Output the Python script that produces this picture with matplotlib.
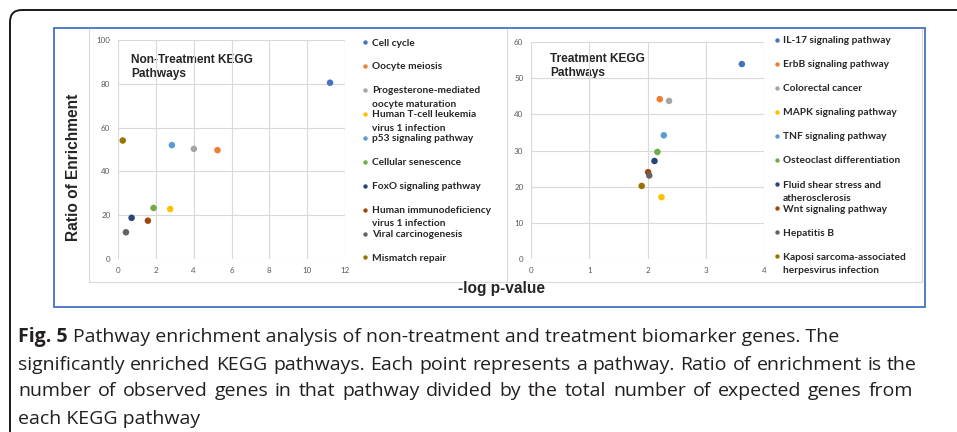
import matplotlib
matplotlib.use('Agg')
import matplotlib.pyplot as plt
from matplotlib.patches import FancyBboxPatch, Rectangle

# ---------------- data ----------------
nt_labels = ["Cell cycle", "Oocyte meiosis", "Progesterone-mediated\noocyte maturation",
             "Human T-cell leukemia\nvirus 1 infection", "p53 signaling pathway",
             "Cellular senescence", "FoxO signaling pathway",
             "Human immunodeficiency\nvirus 1 infection", "Viral carcinogenesis",
             "Mismatch repair"]
nt_x = [11.21, 5.26, 4.01, 2.76, 2.85, 1.88, 0.72, 1.58, 0.42, 0.25]
nt_y = [80.5, 49.7, 50.3, 22.8, 52.0, 23.3, 18.8, 17.5, 12.2, 54.1]

t_labels = ["IL-17 signaling pathway", "ErbB signaling pathway", "Colorectal cancer",
            "MAPK signaling pathway", "TNF signaling pathway", "Osteoclast differentiation",
            "Fluid shear stress and\natherosclerosis", "Wnt signaling pathway", "Hepatitis B",
            "Kaposi sarcoma-associated\nherpesvirus infection"]
t_x = [3.62, 2.21, 2.37, 2.24, 2.28, 2.17, 2.12, 2.01, 2.03, 1.90]
t_y = [53.9, 44.2, 43.7, 17.1, 34.2, 29.6, 27.1, 24.0, 23.1, 20.2]

colors = ["#4472C4", "#ED7D31", "#A5A5A5", "#FFC000", "#5B9BD5",
          "#70AD47", "#264478", "#9E480E", "#636363", "#997300"]

nt_xticks = [0, 2, 4, 6, 8, 10, 12]
nt_yticks = [0, 20, 40, 60, 80, 100]
t_xticks = [0, 1, 2, 3, 4]
t_yticks = [0, 10, 20, 30, 40, 50, 60]

nt_title = "Non-Treatment KEGG\nPathways"
t_title = "Treatment KEGG\nPathways"
ylabel = "Ratio of Enrichment"
xlabel = "-log p-value"

caption_bold = "Fig. 5"
caption_lines = [
    "Pathway enrichment analysis of non-treatment and treatment biomarker genes. The",
    "significantly enriched KEGG pathways. Each point represents a pathway. Ratio of enrichment is the",
    "number of observed genes in that pathway divided by the total number of expected genes from",
    "each KEGG pathway",
]

# ---------------- layout ----------------
W, H = 957, 432
fig = plt.figure(figsize=(W / 100, H / 100), dpi=100)
bg = fig.add_axes([0, 0, 1, 1], zorder=0)
bg.set_xlim(0, W)
bg.set_ylim(H, 0)
bg.axis('off')


def px_rect(x0, y0, x1, y1):
    return [x0 / W, 1 - y1 / H, (x1 - x0) / W, (y1 - y0) / H]


def multiline(x, y, text, lh, **kw):
    # first line's baseline at y, following lines lh pixels lower
    for j, part in enumerate(text.split("\n")):
        bg.text(x, y + j * lh, part, **kw)


# outer rounded frame
bg.add_patch(FancyBboxPatch((10, 10), 990, 450, boxstyle="round,pad=0,rounding_size=12",
                            fill=False, ec="#1a1a1a", lw=1.4))
# blue chart frame
bg.add_patch(Rectangle((54, 28), 871, 279, fill=False, ec="#4472C4", lw=1.3))
# light chart-area borders
gcol = "#D9D9D9"
bg.plot([89, 89], [29, 282], color=gcol, lw=0.8)
bg.plot([507, 507], [29, 282], color=gcol, lw=0.8)
bg.plot([922, 922], [29, 282], color=gcol, lw=0.8)
bg.plot([89, 922], [282, 282], color=gcol, lw=0.8)

tick_font = dict(family="Lato", size=5.8, color="#595959")


def style_axes(ax, xt, yt):
    ax.set_xticks(xt)
    ax.set_yticks(yt)
    ax.set_xlim(xt[0], xt[-1])
    ax.set_ylim(yt[0], yt[-1])
    ax.grid(True, color=gcol, lw=0.8)
    ax.set_axisbelow(True)
    for s in ax.spines.values():
        s.set_visible(False)
    ax.tick_params(length=0, pad=5.5)
    for lab in ax.get_xticklabels() + ax.get_yticklabels():
        lab.set_fontfamily(tick_font["family"])
        lab.set_fontsize(tick_font["size"])
        lab.set_color(tick_font["color"])
    ax.patch.set_alpha(0)


ax1 = fig.add_axes(px_rect(118, 40, 345, 259), zorder=2)
style_axes(ax1, nt_xticks, nt_yticks)
ax1.scatter(nt_x, nt_y, c=colors, s=22, linewidths=0, zorder=3, clip_on=False)

ax2 = fig.add_axes(px_rect(531, 42, 764, 259), zorder=2)
style_axes(ax2, t_xticks, t_yticks)
ax2.scatter(t_x, t_y, c=colors, s=22, linewidths=0, zorder=3, clip_on=False)

# titles inside plots
title_kw = dict(family="Liberation Sans", fontweight="bold", fontsize=8.6,
                color="#262626", va="baseline", ha="left")
multiline(131, 62.7, nt_title, 14, **title_kw)
multiline(550, 62.3, t_title, 14, **title_kw)

# axis labels
bg.text(73, 167, ylabel, rotation=90, ha="center", va="center",
        family="Liberation Sans", fontweight="bold", fontsize=11.2, color="#262626")
bg.text(502, 289, xlabel, ha="center", va="center",
        family="Liberation Sans", fontweight="bold", fontsize=11.2, color="#262626")

# legends
leg_kw = dict(family="Lato", fontweight="bold", fontsize=7.3, color="#262626",
              ha="left", va="baseline")


def draw_legend(labels, mx, tx, y0, dy):
    for i, (lab, col) in enumerate(zip(labels, colors)):
        y = y0 + i * dy
        bg.scatter([mx], [y], s=10, c=[col], linewidths=0, zorder=3)
        multiline(tx, y + 3.2, lab, 13.5, **leg_kw)


draw_legend(nt_labels, 365, 372, 42.3, 23.9)
draw_legend(t_labels, 777, 783, 40.0, 24.05)

# caption
cap_font = dict(family="Open Sans", fontsize=14.0, color="#231F20", va="baseline", ha="left")
renderer = fig.canvas.get_renderer()
x0 = 18
base = [342, 369.5, 396.5, 423.5]
tb = bg.text(x0, base[0], caption_bold, fontweight="bold", **cap_font)
wb = tb.get_window_extent(renderer).width
sp = bg.text(0, -50, "a a", **cap_font)
w_aa = sp.get_window_extent(renderer).width
sa = bg.text(0, -50, "aa", **cap_font)
space_w = w_aa - sa.get_window_extent(renderer).width
sp.remove()
sa.remove()
bg.text(x0 + wb + space_w, base[0], caption_lines[0], **cap_font)

justify_right = [None, 917, 913, None]
for li in range(1, 4):
    line = caption_lines[li]
    right = justify_right[li]
    if right is None:
        bg.text(x0, base[li], line, **cap_font)
        continue
    words = line.split(" ")
    objs = [bg.text(0, base[li], w, **cap_font) for w in words]
    widths = [o.get_window_extent(renderer).width for o in objs]
    gap = (right - x0 - sum(widths)) / (len(words) - 1)
    x = x0
    for o, w in zip(objs, widths):
        o.set_x(x)
        x += w + gap

fig.savefig("out.png", dpi=100)
